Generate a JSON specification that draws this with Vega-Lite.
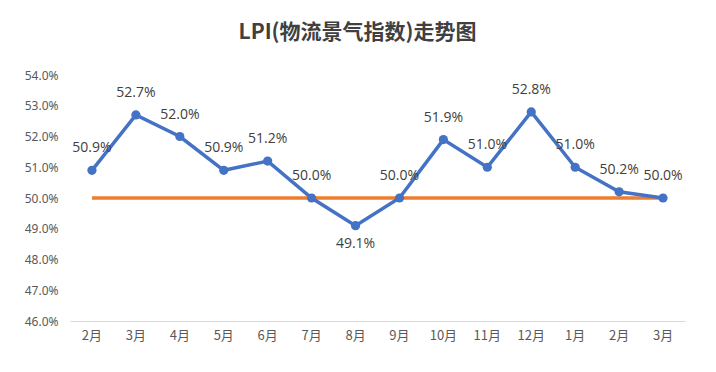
{
  "$schema": "https://vega.github.io/schema/vega-lite/v6.json",
  "autosize": "none",
  "width": 615,
  "height": 246,
  "padding": {"left": 70, "top": 75, "right": 31, "bottom": 51},
  "background": "white",
  "title": {
    "text": "LPI(物流景气指数)走势图",
    "font": "Noto Sans CJK SC",
    "fontSize": 21,
    "fontWeight": "bold",
    "color": "#404040",
    "anchor": "middle",
    "dx": -20,
    "offset": 26
  },
  "data": {
    "values": [
      {"p": "01|2月", "v": 0.509, "base": 0.5},
      {"p": "02|3月", "v": 0.527, "base": 0.5},
      {"p": "03|4月", "v": 0.520, "base": 0.5},
      {"p": "04|5月", "v": 0.509, "base": 0.5},
      {"p": "05|6月", "v": 0.512, "base": 0.5},
      {"p": "06|7月", "v": 0.500, "base": 0.5},
      {"p": "07|8月", "v": 0.491, "base": 0.5},
      {"p": "08|9月", "v": 0.500, "base": 0.5},
      {"p": "09|10月", "v": 0.519, "base": 0.5},
      {"p": "10|11月", "v": 0.510, "base": 0.5},
      {"p": "11|12月", "v": 0.528, "base": 0.5},
      {"p": "12|1月", "v": 0.510, "base": 0.5},
      {"p": "13|2月", "v": 0.502, "base": 0.5},
      {"p": "14|3月", "v": 0.500, "base": 0.5}
    ]
  },
  "encoding": {
    "x": {
      "field": "p",
      "type": "ordinal",
      "sort": "ascending",
      "scale": {"type": "band", "paddingInner": 0, "paddingOuter": 0},
      "axis": {
        "title": null,
        "labelAngle": 0,
        "labelExpr": "split(datum.label, '|')[1]",
        "labelFont": "Noto Sans CJK SC",
        "labelFontSize": 13,
        "labelColor": "#595959",
        "labelPadding": 8,
        "labelOverlap": false,
        "ticks": false,
        "domainColor": "#d9d9d9",
        "domainWidth": 1,
        "grid": false
      }
    },
    "y": {
      "field": "v",
      "type": "quantitative",
      "scale": {"domain": [0.46, 0.54], "zero": false, "nice": false},
      "axis": {
        "title": null,
        "format": ".1%",
        "values": [0.46, 0.47, 0.48, 0.49, 0.5, 0.51, 0.52, 0.53, 0.54],
        "tickCount": 9,
        "labelFont": "Noto Sans",
        "labelFontSize": 12,
        "labelColor": "#595959",
        "labelPadding": 12,
        "labelOverlap": false,
        "labelBound": false,
        "ticks": false,
        "domain": false,
        "grid": false
      }
    }
  },
  "layer": [
    {
      "mark": {"type": "line", "color": "#ED7D31", "strokeWidth": 3.5},
      "encoding": {
        "y": {"field": "base", "type": "quantitative"}
      }
    },
    {
      "mark": {"type": "line", "color": "#4472C4", "strokeWidth": 3.5, "point": {"filled": true, "size": 85, "color": "#4472C4"}}
    },
    {
      "transform": [{"filter": "datum.v >= 0.5"}],
      "mark": {"type": "text", "font": "Open Sans", "fontSize": 14, "color": "#404040", "dy": -22},
      "encoding": {
        "text": {"field": "v", "type": "quantitative", "format": ".1%"}
      }
    },
    {
      "transform": [{"filter": "datum.v < 0.5"}],
      "mark": {"type": "text", "font": "Open Sans", "fontSize": 14, "color": "#404040", "dy": 18},
      "encoding": {
        "text": {"field": "v", "type": "quantitative", "format": ".1%"}
      }
    }
  ],
  "config": {
    "view": {"stroke": null}
  }
}
